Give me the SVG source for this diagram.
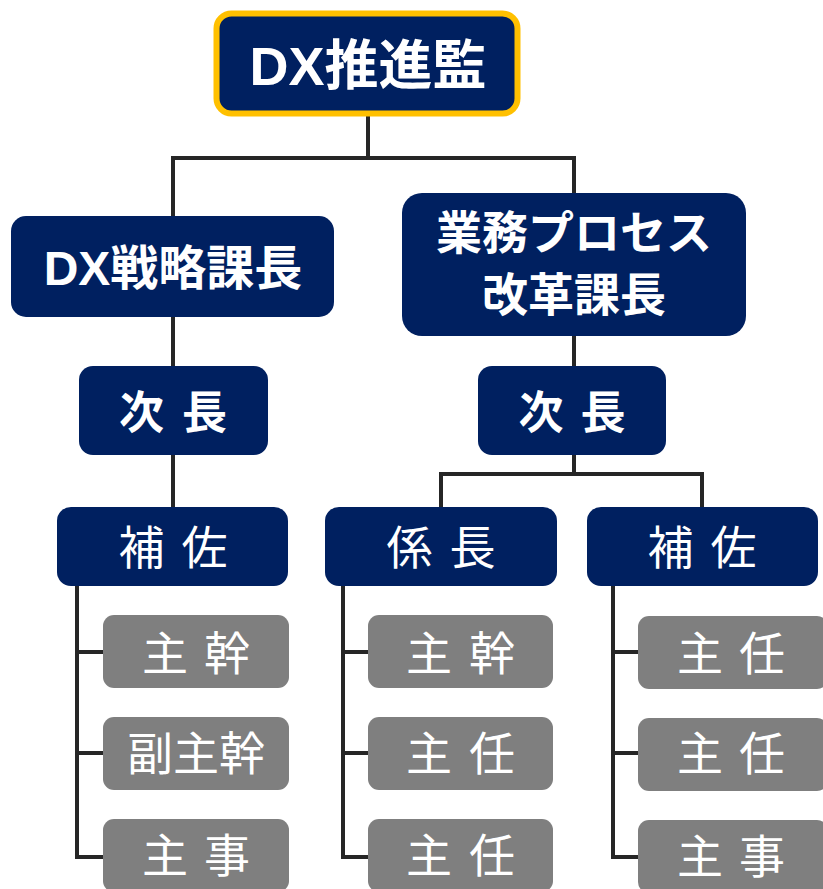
<svg xmlns="http://www.w3.org/2000/svg" width="823" height="889" viewBox="0 0 823 889">
<style>
.navy{fill:#002060}
.gray{fill:#7f7f7f}
.t{fill:#fff;font-family:"Noto Sans CJK JP","Noto Sans",sans-serif;text-anchor:middle}
.b{font-weight:bold}
.lat{font-family:"Liberation Sans","Noto Sans CJK JP",sans-serif}
.conn{fill:none;stroke:#262626;stroke-width:4;stroke-linejoin:miter;stroke-linecap:butt}
</style>
<rect width="823" height="889" fill="#fff"/>
<g id="connectors" class="conn">
<path d="M368 116V158M171 158H576M173 158V216M574 158V193"/>
<path d="M173 317V367M173 455V507"/>
<path d="M574 336V367M574 455V474M439 474H704M441 474V507M702 474V507"/>
<path d="M77 586V857H104M77 652H104M77 753H104"/>
<path d="M343 586V857H368M343 652H368M343 753H368"/>
<path d="M613 586V857H638M613 652H638M613 753H638"/>
</g>
<g id="n-top">
<rect x="216.5" y="13.5" width="301" height="100" rx="15" fill="#002060" stroke="#FFC000" stroke-width="6"/>
<text class="t b lat" x="368" y="84.5" font-size="54">DX推進監</text>
</g>
<g id="n-dx">
<rect class="navy" x="11" y="216" width="323" height="101" rx="15"/>
<text class="t b lat" x="173" y="285" font-size="48">DX戦略課長</text>
</g>
<g id="n-bpr">
<rect class="navy" x="402" y="193" width="344" height="143" rx="20"/>
<text class="t b" x="574" y="248.5" font-size="46">業務プロセス</text>
<text class="t b" x="574" y="310.5" font-size="46">改革課長</text>
</g>
<g id="n-jicho-l">
<rect class="navy" x="79" y="366" width="189" height="89" rx="14"/>
<text class="t b" x="141.5 173 204.5" y="429" font-size="45">次 長</text>
</g>
<g id="n-jicho-r">
<rect class="navy" x="478" y="366" width="188" height="89" rx="14"/>
<text class="t b" x="541 572 603" y="429" font-size="45">次 長</text>
</g>
<g id="n-hosa-l">
<rect class="navy" x="57" y="507" width="231" height="79" rx="14"/>
<text class="t" x="141.5 173 204.5" y="563.5" font-size="46">補 佐</text>
</g>
<g id="n-kakaricho">
<rect class="navy" x="325" y="507" width="232" height="79" rx="14"/>
<text class="t" x="409.5 441 472.5" y="563.5" font-size="46">係 長</text>
</g>
<g id="n-hosa-r">
<rect class="navy" x="587" y="507" width="231" height="79" rx="14"/>
<text class="t" x="670.5 702 733.5" y="563.5" font-size="46">補 佐</text>
</g>
<g id="n-l1">
<rect class="gray" x="103" y="615" width="186" height="73" rx="11"/>
<text class="t" x="165 196 227" y="669.5" font-size="46">主 幹</text>
</g>
<g id="n-l2">
<rect class="gray" x="103" y="717" width="186" height="73" rx="11"/>
<text class="t" x="196" y="769.5" font-size="46">副主幹</text>
</g>
<g id="n-l3">
<rect class="gray" x="103" y="819" width="186" height="73" rx="11"/>
<text class="t" x="165 196 227" y="872" font-size="46">主 事</text>
</g>
<g id="n-m1">
<rect class="gray" x="368" y="615" width="185" height="73" rx="11"/>
<text class="t" x="429 460.5 492" y="669.5" font-size="46">主 幹</text>
</g>
<g id="n-m2">
<rect class="gray" x="368" y="717" width="185" height="73" rx="11"/>
<text class="t" x="429 460.5 492" y="769.5" font-size="46">主 任</text>
</g>
<g id="n-m3">
<rect class="gray" x="368" y="819" width="185" height="73" rx="11"/>
<text class="t" x="429 460.5 492" y="872" font-size="46">主 任</text>
</g>
<g id="n-r1">
<rect class="gray" x="638" y="616" width="190" height="73" rx="11"/>
<text class="t" x="700 731 762" y="670" font-size="46">主 任</text>
</g>
<g id="n-r2">
<rect class="gray" x="638" y="718" width="190" height="73" rx="11"/>
<text class="t" x="700 731 762" y="770" font-size="46">主 任</text>
</g>
<g id="n-r3">
<rect class="gray" x="638" y="820" width="190" height="73" rx="11"/>
<text class="t" x="700 731 762" y="872.5" font-size="46">主 事</text>
</g>
</svg>
